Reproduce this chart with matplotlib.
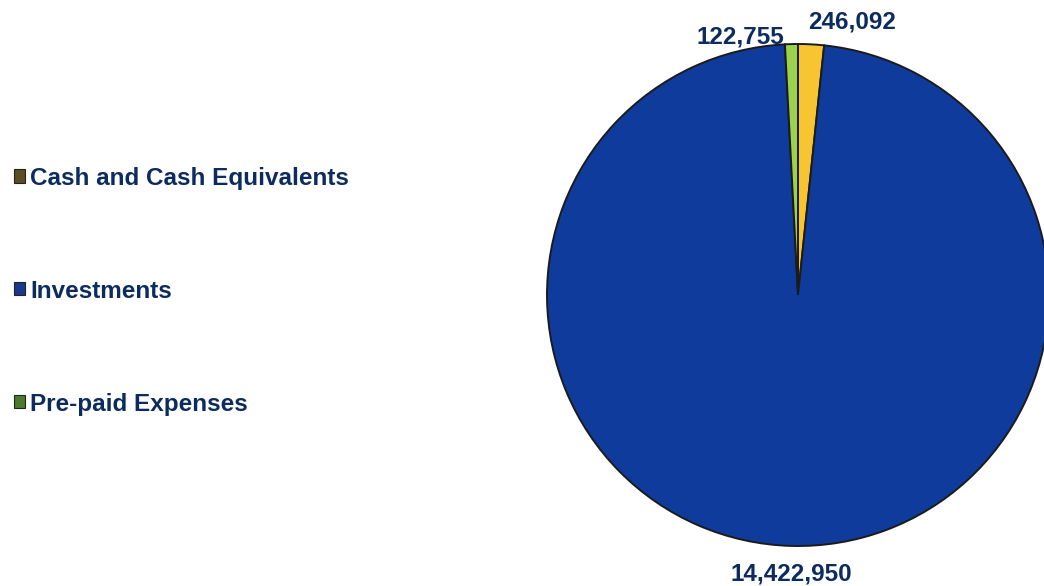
import numpy as np
import matplotlib.pyplot as plt
from matplotlib.patches import Patch

# -------------------------
# Data
# -------------------------
categories = ['Cash and Cash Equivalents', 'Investments', 'Pre-paid Expenses']
values = [246092, 14422950, 122755]
value_labels = ['246,092', '14,422,950', '122,755']

slice_colors = ['#F7C531', '#0F3C9C', '#9CD14E']
legend_colors = ['#5C4E22', '#173A8C', '#4A7A2C']
text_color = '#0C2B5E'

plt.rcParams['font.family'] = ['Liberation Sans', 'DejaVu Sans']

fig = plt.figure(figsize=(10.44, 5.86), dpi=100)
W, H = 1044, 586
cx, cy, r = 798, 295, 251
ax = fig.add_axes([(cx - r) / W, (H - cy - r) / H, 2 * r / W, 2 * r / H])

wedges, _ = ax.pie(values, colors=slice_colors, startangle=90, counterclock=False,
                   radius=1.0, wedgeprops=dict(edgecolor='#1b1b1b', linewidth=1.4))
ax.set_xlim(-1, 1)
ax.set_ylim(-1, 1)
ax.set_aspect('auto')
ax.axis('off')
for w in wedges:
    w.set_clip_on(False)

# value labels, placed from wedge angles with a small sideways nudge
nudge = [(0.16, 0.0), (0.0, -0.02), (-0.2, -0.06)]
for w, lab, (dx, dy) in zip(wedges, value_labels, nudge):
    ang = np.deg2rad((w.theta1 + w.theta2) / 2)
    x = 1.09 * np.cos(ang) + dx
    y = 1.09 * np.sin(ang) + dy
    ax.text(x, y, lab, ha='center', va='center', fontsize=17.5, fontweight='bold',
            color=text_color, clip_on=False)

# legend on the left
handles = [Patch(facecolor=c, edgecolor='#222222', linewidth=0.8) for c in legend_colors]
leg = fig.legend(handles, categories, loc='upper left', bbox_to_anchor=(0.0067, 0.728),
                 frameon=False, fontsize=17.5, labelspacing=3.7, handlelength=0.45,
                 handleheight=0.45, handletextpad=0.2, borderaxespad=0,
                 borderpad=0.3)
for t in leg.get_texts():
    t.set_color(text_color)
    t.set_fontweight('bold')

fig.savefig('out.png', dpi=100)
